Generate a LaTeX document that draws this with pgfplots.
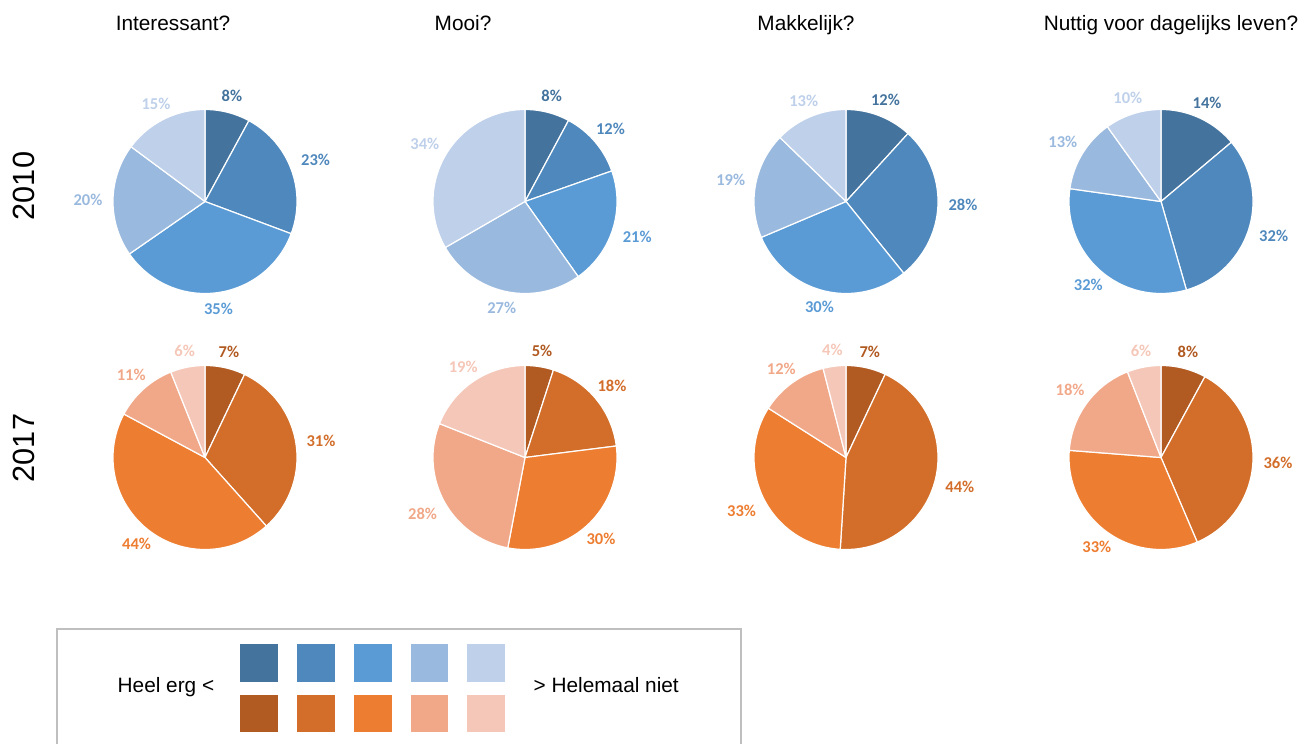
\documentclass[border=0pt]{standalone}
\usepackage{pgfplots}
\pgfplotsset{compat=1.18}
\usepackage{fontspec}
\setmainfont{Liberation Sans}
\newfontfamily\lblfont{Carlito}
\definecolor{b1}{HTML}{44739D}
\definecolor{b2}{HTML}{4F88BC}
\definecolor{b3}{HTML}{5B9BD5}
\definecolor{b4}{HTML}{9AB9DE}
\definecolor{b5}{HTML}{BED0EA}
\definecolor{o1}{HTML}{B15A22}
\definecolor{o2}{HTML}{D26E2A}
\definecolor{o3}{HTML}{ED7D31}
\definecolor{o4}{HTML}{F1A889}
\definecolor{o5}{HTML}{F5C7B8}
\definecolor{boxgray}{HTML}{BFBFBF}
\def\R{92}
\newcommand\lblstyle{\lblfont\bfseries\fontsize{12.4}{14}\selectfont}
\newcommand\txtstyle{\fontsize{15.6}{18}\selectfont}
% #1 cx, #2 cy, #3 start (cumulative), #4 value, #5 total, #6 colour
\newcommand\slice[6]{%
  \pgfmathsetmacro\aS{90-(#3)/(#5)*360}%
  \pgfmathsetmacro\aE{90-(#3+#4)/(#5)*360}%
  \pgfmathsetmacro\aM{(\aS+\aE)/2}%
  \pgfmathsetmacro\lx{#1+(\R+9)*cos(\aM)}%
  \pgfmathsetmacro\ly{#2-(\R+9)*sin(\aM)}%
  \pgfmathtruncatemacro\anc{mod(\aM+540,360)}%
  \edef\doit{\noexpand\addplot[fill=#6, draw=white, line width=0.9pt, line join=round, domain=\aE:\aS, samples=72, variable=\noexpand\t] ({#1+\R*cos(\noexpand\t)},{#2-\R*sin(\noexpand\t)}) -- (axis cs:#1,#2) -- cycle;
    \noexpand\node[font=\noexpand\lblstyle, text=#6, anchor=\anc, inner sep=1pt] at (axis cs:\lx,\ly) {#4\noexpand\%};}%
  \doit}
% #1 cx, #2 cy, #3..#7 values, #8 palette
\newcommand\pie[8]{%
  \pgfmathsetmacro\tot{#3+#4+#5+#6+#7}%
  \slice{#1}{#2}{0}{#3}{\tot}{#81}%
  \slice{#1}{#2}{#3}{#4}{\tot}{#82}%
  \slice{#1}{#2}{#3+#4}{#5}{\tot}{#83}%
  \slice{#1}{#2}{#3+#4+#5}{#6}{\tot}{#84}%
  \slice{#1}{#2}{#3+#4+#5+#6}{#7}{\tot}{#85}%
}
\begin{document}
\begin{tikzpicture}
\begin{axis}[scale only axis, width=984pt, height=558pt,
  xmin=0, xmax=1312, ymin=0, ymax=744, y dir=reverse,
  hide axis, clip=false]
\path (axis cs:0,0) rectangle (axis cs:1312,744);
% column titles
\node[font=\txtstyle, anchor=base] at (axis cs:173,31) {Interessant?};
\node[font=\txtstyle, anchor=base] at (axis cs:463,31) {Mooi?};
\node[font=\txtstyle, anchor=base] at (axis cs:806,31) {Makkelijk?};
\node[font=\txtstyle, anchor=base] at (axis cs:1171,31) {Nuttig voor dagelijks leven?};
% row labels
\node[font=\fontsize{23}{26}\selectfont, rotate=90] at (axis cs:24,186) {2010};
\node[font=\fontsize{23}{26}\selectfont, rotate=90] at (axis cs:24,448) {2017};
% 2010
\pie{205}{201.5}{8}{23}{35}{20}{15}{b}
\pie{525}{201.5}{8}{12}{21}{27}{34}{b}
\pie{846}{201.5}{12}{28}{30}{19}{13}{b}
\pie{1161}{201.5}{14}{32}{32}{13}{10}{b}
% 2017
\pie{205}{457.5}{7}{31}{44}{11}{6}{o}
\pie{525}{457.5}{5}{18}{30}{28}{19}{o}
\pie{846}{457.5}{7}{44}{33}{12}{4}{o}
\pie{1161}{457.5}{8}{36}{33}{18}{6}{o}
% legend box
\draw[boxgray, line width=1.5pt] (axis cs:57,744) -- (axis cs:57,629) -- (axis cs:741,629) -- (axis cs:741,744);
\node[font=\txtstyle, anchor=base west] at (axis cs:113,692) {Heel erg <};
\node[font=\txtstyle, anchor=base west] at (axis cs:529,692) {> Helemaal niet};
\addplot[fill=b1, draw=none] coordinates {(240,644) (277.5,644) (277.5,682) (240,682)};
\addplot[fill=b2, draw=none] coordinates {(297,644) (334.5,644) (334.5,682) (297,682)};
\addplot[fill=b3, draw=none] coordinates {(354,644) (391.5,644) (391.5,682) (354,682)};
\addplot[fill=b4, draw=none] coordinates {(410.5,644) (448,644) (448,682) (410.5,682)};
\addplot[fill=b5, draw=none] coordinates {(467,644) (504.5,644) (504.5,682) (467,682)};
\addplot[fill=o1, draw=none] coordinates {(240,695) (277.5,695) (277.5,732) (240,732)};
\addplot[fill=o2, draw=none] coordinates {(297,695) (334.5,695) (334.5,732) (297,732)};
\addplot[fill=o3, draw=none] coordinates {(354,695) (391.5,695) (391.5,732) (354,732)};
\addplot[fill=o4, draw=none] coordinates {(410.5,695) (448,695) (448,732) (410.5,732)};
\addplot[fill=o5, draw=none] coordinates {(467,695) (504.5,695) (504.5,732) (467,732)};
\end{axis}
\end{tikzpicture}
\end{document}
